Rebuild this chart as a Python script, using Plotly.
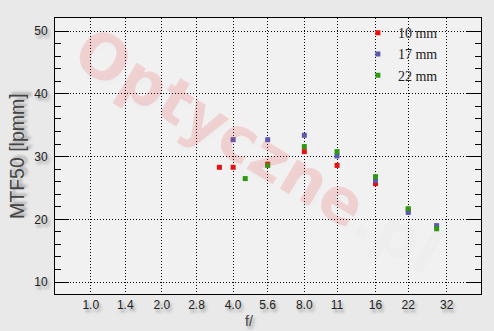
import plotly.graph_objects as go

# f-stop axis labels
tick_vals = [1.0, 1.4, 2.0, 2.8, 4.0, 5.6, 8.0, 11, 16, 22, 32]
tick_text = ["1.0", "1.4", "2.0", "2.8", "4.0", "5.6", "8.0", "11", "16", "22", "32"]

# 10 mm
f_10 = [3.5, 4.0, 5.6, 8.0, 11, 16, 22]
mtf_10 = [28.3, 28.3, 28.8, 30.8, 28.6, 25.7, 21.5]

# 17 mm
f_17 = [4.0, 5.6, 8.0, 11, 16, 22, 29]
mtf_17 = [32.7, 32.7, 33.4, 30.1, 26.2, 21.1, 19.0]

# 22 mm
f_22 = [4.5, 5.6, 8.0, 11, 16, 22, 29]
mtf_22 = [26.5, 28.6, 31.6, 30.8, 26.8, 21.7, 18.5]

series = [
    ("10 mm", f_10, mtf_10, "#e81010"),
    ("17 mm", f_17, mtf_17, "#5a5ab0"),
    ("22 mm", f_22, mtf_22, "#2e9a10"),
]

fig = go.Figure()
for name, fx, fy, col in series:
    fig.add_trace(go.Scatter(
        x=fx, y=fy, name=name, mode="markers",
        marker=dict(symbol="square", size=5, color=col, line=dict(width=0)),
    ))

shadow = "2px 3px 3px rgba(0,0,0,0.35)"
tickfont = dict(family="Liberation Sans, Arial, sans-serif", size=12, color="#222", shadow=shadow)

fig.update_layout(
    width=494, height=331,
    margin=dict(l=55, r=13, t=18, b=37),
    paper_bgcolor="#e9e9e9",
    plot_bgcolor="#f1f1f1",
    showlegend=True,
    legend=dict(
        x=0.711, y=1.003, xanchor="left", yanchor="top",
        bgcolor="rgba(0,0,0,0)",
        font=dict(family="Liberation Serif, Times New Roman, serif", size=14, color="#222"),
    ),
    xaxis=dict(
        type="log",
        range=[-0.151, 1.650],
        tickvals=tick_vals, ticktext=tick_text,
        ticks="", showline=True, linecolor="black", linewidth=1, mirror=True,
        showgrid=True, gridcolor="black", gridwidth=1, griddash="1px,2px",
        tickfont=tickfont, zeroline=False,
    ),
    yaxis=dict(
        range=[8.1, 52.1],
        tick0=10, dtick=10,
        ticks="inside", ticklen=14, tickcolor="black", tickwidth=1,
        showline=True, linecolor="black", linewidth=1, mirror="ticks",
        showgrid=True, gridcolor="black", gridwidth=1, griddash="1px,2px",
        minor=dict(dtick=2, ticks="inside", ticklen=6, tickcolor="black", showgrid=False),
        tickfont=tickfont, zeroline=False,
        ticklabelstandoff=4,
    ),
    annotations=[
        dict(text="Optyczne<span style='color:rgba(120,120,120,0.12)'>.pl</span>",
             xref="paper", yref="paper", x=0.477, y=0.52, showarrow=False,
             textangle=31,
             font=dict(family="DejaVu Sans, Arial, sans-serif", size=62,
                       color="rgba(235,60,60,0.17)", weight="bold",
                       shadow="3px 3px 4px rgba(0,0,0,0.08)")),
        dict(text="MTF50 [lpmm]", xref="paper", yref="paper",
             x=-0.0892, y=0.5, showarrow=False, textangle=-90,
             xanchor="center", yanchor="middle",
             font=dict(family="Liberation Sans, Arial, sans-serif", size=19.5, color="#444", shadow=shadow)),
        dict(text="f/", xref="paper", yref="paper",
             x=0.4554, y=-0.0978, showarrow=False,
             xanchor="center", yanchor="middle",
             font=dict(family="Liberation Sans, Arial, sans-serif", size=14, color="#444", shadow=shadow)),
    ],
)

fig.write_html("out.html")
